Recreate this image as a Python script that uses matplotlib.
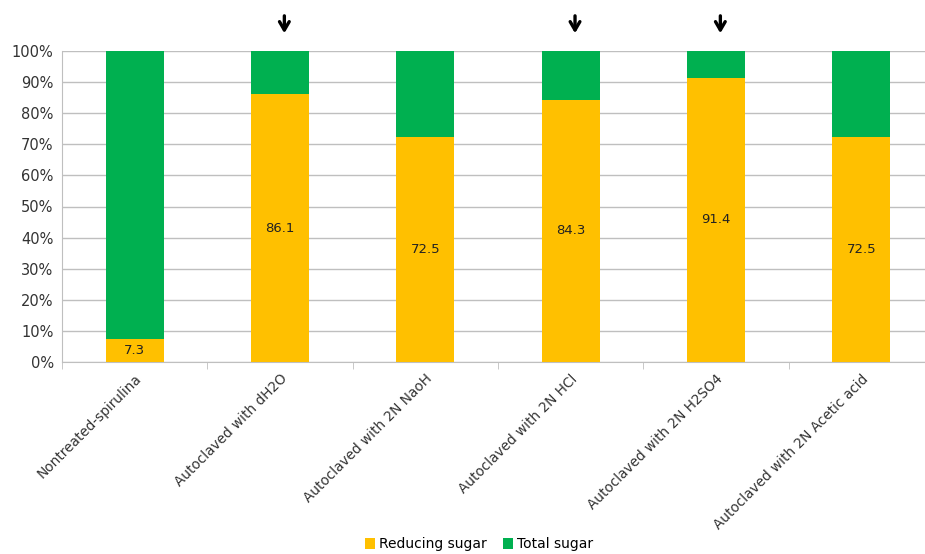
import matplotlib.pyplot as plt
import numpy as np

# --- data ---
categories = ['Nontreated-spirulina', 'Autoclaved with dH2O', 'Autoclaved with 2N NaoH',
              'Autoclaved with 2N HCl', 'Autoclaved with 2N H2SO4', 'Autoclaved with 2N Acetic acid']
reducing = [7.3, 86.1, 72.5, 84.3, 91.4, 72.5]
total = [100 - r for r in reducing]      # rest of the 100% stack
arrow_idx = [1, 3, 4]                     # bars marked with an arrow

YELLOW = '#FFC000'
GREEN = '#00B050'
GRID = '#BFBFBF'

plt.rcParams['font.family'] = ['DejaVu Sans']

fig = plt.figure(figsize=(9.25, 5.54), dpi=100)
# axes placed in pixels: left 62, right 934, top 51, bottom 362
W, H = 925, 554
ax = fig.add_axes([62 / W, (H - 362) / H, (934 - 62) / W, (362 - 51) / H])

x = np.arange(len(categories))
ax.bar(x, reducing, width=0.4, color=YELLOW, label='Reducing sugar', zorder=3)
ax.bar(x, total, width=0.4, bottom=reducing, color=GREEN, label='Total sugar', zorder=3)

for xi, r in zip(x, reducing):
    ax.text(xi, r / 2, f'{r}', ha='center', va='center', fontsize=9.5, color='#222222', zorder=4)

for i in arrow_idx:
    ax.annotate('', xy=(x[i] + 0.03, 104.8), xytext=(x[i] + 0.03, 112.2),
                arrowprops=dict(arrowstyle='->,head_length=0.6,head_width=0.35', lw=2.4, color='black'),
                annotation_clip=False)

ax.set_xlim(-0.5, len(categories) - 0.5)
ax.set_ylim(0, 100)
ax.set_yticks(range(0, 101, 10))
ax.set_yticklabels([f'{v}%' for v in range(0, 101, 10)], fontsize=10.5, color='#333333')
ax.yaxis.grid(True, color=GRID, lw=1, zorder=0)
ax.tick_params(axis='y', length=0, pad=6)

# category labels sit under bars, tick marks sit between them
ax.set_xticks(x)
ax.set_xticklabels(categories, rotation=45, ha='right', rotation_mode='anchor',
                   fontsize=9.8, color='#333333')
ax.set_xticks(np.arange(-0.5, len(categories), 1), minor=True)
ax.tick_params(axis='x', which='major', length=0, pad=7)
ax.tick_params(axis='x', which='minor', length=5, color=GRID, direction='out')

for s in ['top', 'right']:
    ax.spines[s].set_visible(False)
ax.spines['left'].set_color(GRID)
ax.spines['bottom'].set_color(GRID)

fig.legend(loc='lower center', bbox_to_anchor=(0.518, -0.018), ncol=2, frameon=False,
           fontsize=10, handlelength=0.7, handleheight=0.9, handletextpad=0.3,
           columnspacing=1.2)

fig.savefig('out.png', dpi=100)
